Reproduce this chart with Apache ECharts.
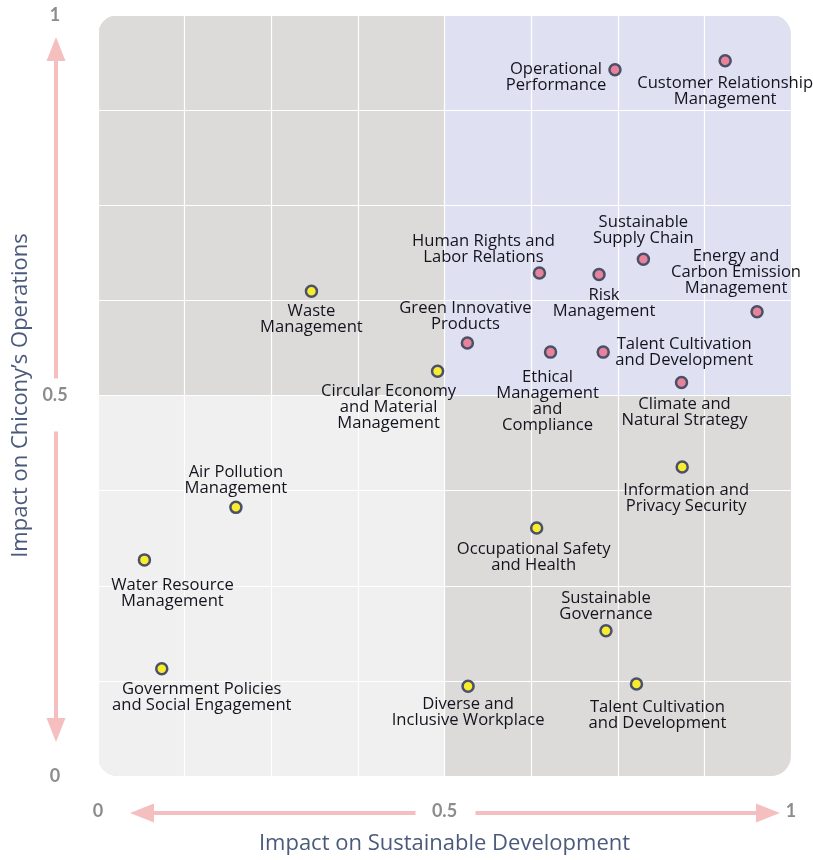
<!DOCTYPE html>
<html>
<head>
<meta charset="utf-8">
<script src="https://cdn.jsdelivr.net/npm/echarts@6/dist/echarts.min.js"></script>
<style>
  html, body { margin: 0; padding: 0; background: #fff; }
  #main { width: 813px; height: 860px; }
</style>
</head>
<body>
<div id="main"></div>
<script>
// 议题名称（\n 为换行）
const topicNames = [
  'Operational\nPerformance',
  'Customer Relationship\nManagement',
  'Human Rights and\nLabor Relations',
  'Risk\nManagement',
  'Sustainable\nSupply Chain',
  'Energy and\nCarbon Emission\nManagement',
  'Green Innovative\nProducts',
  'Ethical\nManagement\nand\nCompliance',
  'Talent Cultivation\nand Development',
  'Climate and\nNatural Strategy',
  'Circular Economy\nand Material\nManagement',
  'Waste\nManagement',
  'Air Pollution\nManagement',
  'Water Resource\nManagement',
  'Government Policies\nand Social Engagement',
  'Information and\nPrivacy Security',
  'Occupational Safety\nand Health',
  'Sustainable\nGovernance',
  'Diverse and\nInclusive Workplace',
  'Talent Cultivation\nand Development'
];
// 对可持续发展的影响（x）
const sustainImpact = [0.746, 0.905, 0.637, 0.723, 0.787, 0.951, 0.533, 0.653, 0.729, 0.842,
                       0.490, 0.308, 0.199, 0.067, 0.092, 0.843, 0.633, 0.733, 0.534, 0.777];
// 对营运的影响（y）
const operationsImpact = [0.928, 0.940, 0.661, 0.659, 0.679, 0.610, 0.569, 0.557, 0.557, 0.517,
                          0.532, 0.637, 0.353, 0.284, 0.141, 0.406, 0.326, 0.191, 0.118, 0.121];
// 重大议题 major / 一般议题 minor
const topicGroup = ['major', 'major', 'major', 'major', 'major', 'major', 'major', 'major', 'major', 'major',
                    'minor', 'minor', 'minor', 'minor', 'minor', 'minor', 'minor', 'minor', 'minor', 'minor'];
const axisTicks = [0, 0.5, 1];

// 标签相对点中心的偏移（像素）
const labelOffsets = [
  [-59, 7], [0, 31], [-56, -24], [5, 29], [0, -29], [-21, -40], [-2, -27], [-3, 49], [81, 0], [3, 30],
  [-49, 36], [0, 28], [0, -27], [28, 33], [40, 29], [4, 31], [-3, 29], [0, -24], [0, 26], [21, 31]
];

const GRAY = '#dcdbd9';
const LAVENDER = '#dfe1f2';
const LIGHT = '#eff0ef';
const ARROW = '#f5bfbf';

function buildData(group) {
  const out = [];
  topicNames.forEach((name, i) => {
    if (topicGroup[i] !== group) return;
    out.push({
      name: name,
      value: [sustainImpact[i], operationsImpact[i]],
      label: { offset: labelOffsets[i] }
    });
  });
  return out;
}

const tickFormatter = (v) => (axisTicks.indexOf(v) >= 0 ? String(v) : '');

const labelStyle = {
  show: true,
  position: 'inside',
  formatter: '{b}',
  color: '#14141e',
  textBorderWidth: 0,
  fontFamily: 'Open Sans',
  fontSize: 16.6,
  lineHeight: 16,
  align: 'center',
  verticalAlign: 'middle'
};

const chart = echarts.init(document.getElementById('main'));

const option = {
  animation: false,
  grid: { left: 98, right: 22, top: 15, bottom: 83 },
  xAxis: {
    type: 'value',
    min: 0,
    max: 1,
    interval: 0.125,
    name: 'Impact on Sustainable Development',
    nameLocation: 'middle',
    nameGap: 57,
    nameTextStyle: { color: '#4b5a7c', fontFamily: 'Open Sans', fontSize: 22 },
    axisLine: { show: false },
    axisTick: { show: false },
    axisLabel: {
      formatter: tickFormatter,
      margin: 26,
      color: '#8c8c8c',
      fontFamily: 'Lato',
      fontWeight: 'bold',
      fontSize: 18
    },
    splitLine: { show: true, lineStyle: { color: '#ffffff', width: 1.2 } }
  },
  yAxis: {
    type: 'value',
    min: 0,
    max: 1,
    interval: 0.125,
    name: 'Impact on Chicony\u2019s Operations',
    nameLocation: 'middle',
    nameGap: 62,
    nameTextStyle: { color: '#4b5a7c', fontFamily: 'Open Sans', fontSize: 22 },
    axisLine: { show: false },
    axisTick: { show: false },
    axisLabel: {
      formatter: tickFormatter,
      margin: 43,
      align: 'center',
      color: '#8c8c8c',
      fontFamily: 'Lato',
      fontWeight: 'bold',
      fontSize: 18
    },
    splitLine: { show: true, lineStyle: { color: '#ffffff', width: 1.2 } }
  },
  series: [
    {
      type: 'scatter',
      symbol: 'circle',
      symbolSize: 11,
      itemStyle: { color: '#e8829a', borderColor: '#4a5068', borderWidth: 2.5, opacity: 1 },
      label: labelStyle,
      data: buildData('major'),
      z: 3
    },
    {
      type: 'scatter',
      symbol: 'circle',
      symbolSize: 11,
      itemStyle: { color: '#f7ec2e', borderColor: '#4a5068', borderWidth: 2.5, opacity: 1 },
      label: labelStyle,
      data: buildData('minor'),
      z: 3
    }
  ]
};

chart.setOption(option);

// 背景象限与坐标箭头（由坐标系换算像素位置）
const p00 = chart.convertToPixel({ gridIndex: 0 }, [0, 0]);
const p11 = chart.convertToPixel({ gridIndex: 0 }, [1, 1]);
const pm = chart.convertToPixel({ gridIndex: 0 }, [0.5, 0.5]);

function arrowLine(x1, y1, x2, y2) {
  return { type: 'line', z: -1, silent: true, shape: { x1, y1, x2, y2 }, style: { stroke: ARROW, lineWidth: 4 } };
}
function arrowHead(points) {
  return { type: 'polygon', z: -1, silent: true, shape: { points }, style: { fill: ARROW } };
}

const ax = p00[0] - 42;
const ay = p00[1] + 37;
const hw = 9.5;

chart.setOption({
  graphic: [
    {
      type: 'rect', z: -10, silent: true,
      shape: { x: p00[0], y: p11[1], width: p11[0] - p00[0], height: p00[1] - p11[1], r: 20 },
      style: { fill: GRAY }
    },
    {
      type: 'rect', z: -9, silent: true,
      shape: { x: pm[0], y: p11[1], width: p11[0] - pm[0], height: pm[1] - p11[1], r: [0, 20, 0, 0] },
      style: { fill: LAVENDER }
    },
    {
      type: 'rect', z: -9, silent: true,
      shape: { x: p00[0], y: pm[1], width: pm[0] - p00[0], height: p00[1] - pm[1], r: [0, 0, 0, 20] },
      style: { fill: LIGHT }
    },
    // 纵向箭头
    arrowLine(ax, pm[1] - 17, ax, p11[1] + 44),
    arrowHead([[ax, p11[1] + 22], [ax - hw, p11[1] + 46], [ax + hw, p11[1] + 46]]),
    arrowLine(ax, pm[1] + 36, ax, p00[1] - 56),
    arrowHead([[ax, p00[1] - 34], [ax - hw, p00[1] - 58], [ax + hw, p00[1] - 58]]),
    // 横向箭头
    arrowLine(pm[0] - 29, ay, p00[0] + 54, ay),
    arrowHead([[p00[0] + 32, ay], [p00[0] + 56, ay - hw], [p00[0] + 56, ay + hw]]),
    arrowLine(pm[0] + 31, ay, p11[0] - 33, ay),
    arrowHead([[p11[0] - 11, ay], [p11[0] - 35, ay - hw], [p11[0] - 35, ay + hw]])
  ]
});
</script>
</body>
</html>
